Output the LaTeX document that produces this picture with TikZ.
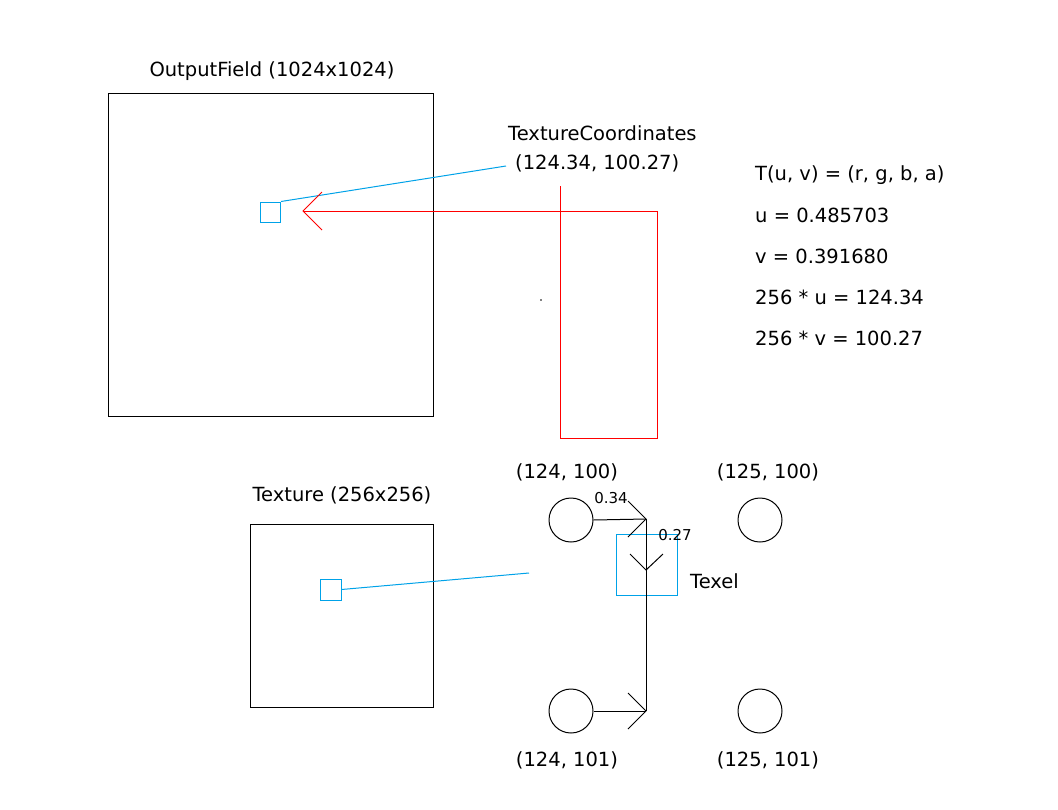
\documentclass[tikz,border=0pt]{standalone}
\usepackage{fontspec}
\setmainfont{DejaVu Sans}
\begin{document}
\begin{tikzpicture}[x=1pt,y=-1pt,
  lbl/.style={inner sep=0pt,font=\fontsize{19.5}{22}\selectfont},
  small/.style={inner sep=0pt,font=\fontsize{15}{17}\selectfont},
  cy/.style={draw={rgb,255:red,0;green,162;blue,232},line width=1pt},
  rd/.style={draw=red,line width=1pt},
  bk/.style={draw=black,line width=1pt},
  pt/.style={circle,draw,line width=1pt,minimum size=44pt,inner sep=0pt}]
\useasboundingbox (0,0) rectangle (1058,809);
% output field
\node[draw,line width=1pt,minimum width=325pt,minimum height=323pt,inner sep=0pt] (of) at (270.5,254.5) {};
\node[lbl] (oft) at (272,71) {OutputField (1024x1024)};
\node[cy,minimum size=20pt,inner sep=0pt] (ofs) at (270.5,212) {};
\node[lbl,anchor=west] (tc1) at (508,133) {TextureCoordinates};
\node[lbl,anchor=west] (tc2) at (515,163) {(124.34, 100.27)};
\coordinate (tcl) at (506,166);
\draw[cy] (ofs.north east) -- (tcl);
% red path
\coordinate (r1) at (560,186);
\coordinate (r2) at (560,438);
\coordinate (r3) at (657,438);
\coordinate (r4) at (657,211);
\coordinate (r5) at (303,211);
\draw[rd] (r1) -- (r2) -- (r3) -- (r4) -- (r5);
\draw[rd] (322,192) -- (r5) -- (322,230);
\fill (541,300) circle (0.8pt);
% formulas
\node[lbl,anchor=west] (f1) at (755,175) {T(u, v) = (r, g, b, a)};
\node[lbl,anchor=west] (f2) at (755,215) {u = 0.485703};
\node[lbl,anchor=west] (f3) at (755,256) {v = 0.391680};
\node[lbl,anchor=west] (f4) at (755,297) {256 * u = 124.34};
\node[lbl,anchor=west] (f5) at (755,338) {256 * v = 100.27};
% texture
\node[draw,line width=1pt,minimum width=183pt,minimum height=183pt,inner sep=0pt] (tx) at (341.5,615.5) {};
\node[lbl] (txt) at (342,495) {Texture (256x256)};
\node[cy,minimum size=21pt,inner sep=0pt] (txs) at (330.5,589.5) {};
\coordinate (txl) at (529,573);
\draw[cy] (txs.east) -- (txl);
% texels
\node[pt] (c1) at (571,520) {};
\node[pt] (c2) at (760,520) {};
\node[pt] (c3) at (571,711) {};
\node[pt] (c4) at (760,711) {};
\node[lbl] (l1) at (567,472) {(124, 100)};
\node[lbl] (l2) at (768,472) {(125, 100)};
\node[lbl] (l3) at (567,760) {(124, 101)};
\node[lbl] (l4) at (768,760) {(125, 101)};
\node[cy,minimum size=61pt,inner sep=0pt] (texel) at (646.5,564.5) {};
\node[lbl,anchor=west] (tl) at (690,581) {Texel};
\coordinate (p1) at (646,519);
\coordinate (p2) at (646,570);
\coordinate (p3) at (646,711);
\draw[bk] (c1.east) -- (p1);
\draw[bk] (628,501) -- (p1) -- (628,537);
\draw[bk] (p1) -- (p3);
\draw[bk] (630,554) -- (p2) -- (663,554);
\draw[bk] (c3.east) -- (p3);
\draw[bk] (628,693) -- (p3) -- (628,729);
\node[small] (n1) at (611,498) {0.34};
\node[small] (n2) at (675,535) {0.27};
\end{tikzpicture}
\end{document}
